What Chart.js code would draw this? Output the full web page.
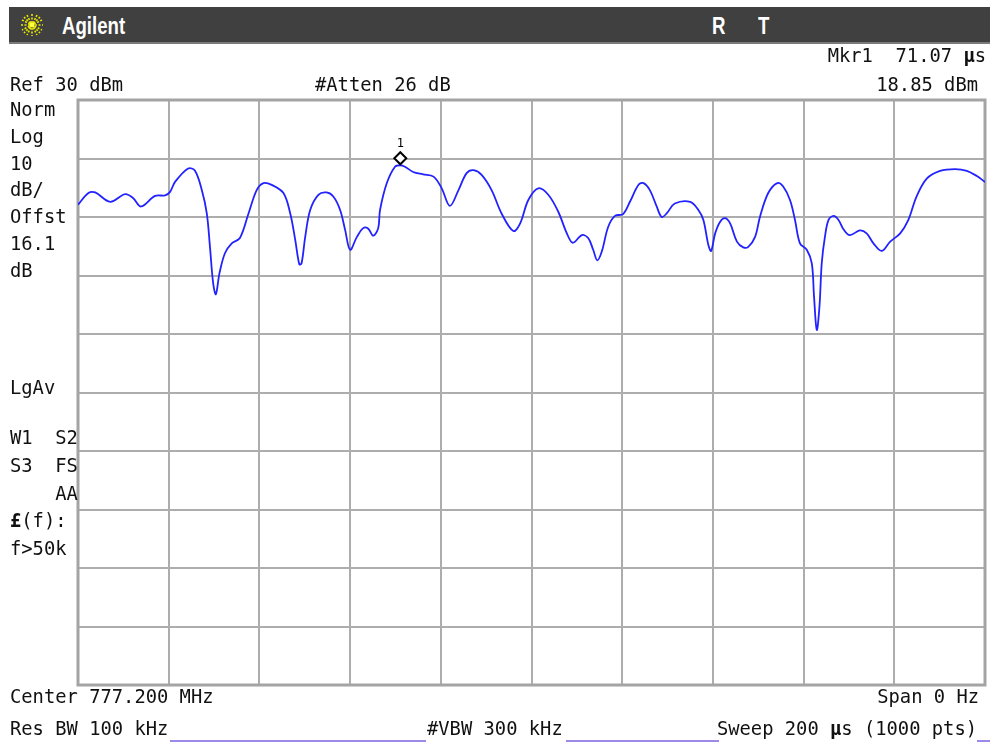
<!DOCTYPE html>
<html>
<head>
<meta charset="utf-8">
<script src="https://cdn.jsdelivr.net/npm/chart.js@4.4.1/dist/chart.umd.min.js"></script>
<style>
  html, body { margin: 0; padding: 0; background: #ffffff; }
  #wrap { position: relative; width: 990px; height: 742px; overflow: hidden; background: #fff; }
  #c { position: absolute; left: 0; top: 0; }
  .t { position: absolute; font-family: "DejaVu Sans Mono", "Liberation Mono", monospace; font-size: 18.8px; line-height: 1; color: #111; white-space: pre; }
  .r { text-align: right; }
  #bar { position: absolute; left: 9px; top: 7px; width: 981px; height: 35px; background: #404040; border-bottom: 2px solid #7a7a7a; }
  .hb { position: absolute; font-family: "Liberation Sans", Arial, sans-serif; font-weight: bold; font-size: 23px; line-height: 1; color: #fff; transform-origin: 0 0; transform: scaleX(0.81); white-space: pre; }
  .ul { position: absolute; height: 2px; background: #9d8ae8; top: 740px; }
</style>
</head>
<body>
<div id="wrap">
  <canvas id="c" width="990" height="742"></canvas>
  <div id="bar"></div>
  <svg style="position:absolute;left:20px;top:13px" width="24" height="24" viewBox="0 0 24 24">
    <g stroke="#e8e800" stroke-width="1.6" stroke-dasharray="2 1.5">
      <line x1="12" y1="1" x2="12" y2="23"/><line x1="1" y1="12" x2="23" y2="12"/>
      <line x1="4" y1="4" x2="20" y2="20"/><line x1="20" y1="4" x2="4" y2="20"/>
      <line x1="7" y1="2" x2="17" y2="22"/><line x1="17" y1="2" x2="7" y2="22"/>
      <line x1="2" y1="7" x2="22" y2="17"/><line x1="22" y1="7" x2="2" y2="17"/>
    </g>
    <circle cx="12" cy="12" r="2.5" fill="#ffff40"/>
  </svg>
  <div class="hb" style="left:62px;top:15px">Agilent</div>
  <div class="hb" style="left:712px;top:15px">R</div>
  <div class="hb" style="left:758px;top:15px">T</div>
</div>
<script>
// ---- Data (time in µs, level in dBm) ----
const timeUs = [0, 2.3, 3.8, 7.1, 10.4, 12.2, 13.9, 17.0, 19.2, 20.3, 21.4, 24.3, 25.8, 27.3, 28.4, 29.1, 29.8, 30.4, 31.2, 32.4, 33.9, 35.7, 37.6, 39.4, 40.9, 42.7, 45.3, 46.8, 47.9, 48.8, 49.3, 50.1, 51.2, 53.0, 54.8, 56.3, 57.8, 58.9, 60.0, 61.5, 62.9, 64.0, 65.1, 66.2, 66.6, 68.1, 69.9, 71.07, 72.1, 73.9, 76.1, 78.4, 80.2, 82.0, 83.9, 85.7, 87.2, 89.0, 91.2, 93.4, 96.0, 97.5, 99.3, 101.5, 103.7, 105.9, 107.8, 109.1, 111.1, 112.5, 113.6, 114.5, 115.5, 116.9, 118.4, 120.2, 121.7, 123.6, 124.7, 126.1, 127.6, 128.7, 129.8, 131.6, 135.0, 136.8, 137.9, 139.0, 139.6, 140.5, 141.6, 142.7, 143.8, 145.3, 146.7, 147.8, 149.3, 150.4, 152.2, 154.2, 155.5, 157.0, 158.1, 159.2, 160.7, 161.8, 162.3, 162.9, 163.5, 164.0, 164.7, 165.5, 166.6, 167.7, 168.8, 170.2, 172.4, 173.9, 175.4, 177.2, 179.1, 181.3, 183.1, 184.9, 187.2, 190.1, 193.4, 196.0, 198.2, 200];
const levelDbm = [12.1, 14.1, 14.2, 12.6, 13.9, 13.2, 11.8, 13.6, 13.7, 14.3, 16.0, 18.3, 17.9, 14.6, 10.6, 4.9, -1.3, -3.2, 0.4, 3.8, 5.5, 6.4, 10.6, 14.6, 15.8, 15.5, 14.1, 10.6, 6.1, 1.9, 2.1, 6.6, 11.2, 13.8, 14.2, 13.5, 11.2, 7.8, 4.4, 6.6, 8.1, 8.0, 6.8, 8.1, 11.2, 15.8, 18.6, 18.85, 18.6, 17.7, 17.3, 16.9, 14.9, 11.9, 14.6, 17.5, 18.0, 17.2, 14.6, 10.6, 7.6, 8.9, 12.9, 14.9, 13.8, 10.9, 7.2, 5.6, 6.9, 6.4, 4.4, 2.6, 4.1, 8.3, 10.2, 10.5, 12.6, 15.5, 15.8, 14.6, 11.8, 10.0, 10.6, 12.3, 12.6, 11.2, 9.5, 5.2, 4.2, 7.2, 9.2, 9.8, 8.9, 5.8, 4.8, 4.9, 6.6, 10.1, 14.1, 15.8, 15.2, 12.9, 9.5, 5.5, 4.4, 2.1, -3.6, -9.3, -5.3, 2.1, 6.6, 9.5, 10.2, 9.5, 7.9, 6.9, 7.7, 7.2, 5.5, 4.2, 5.8, 7.2, 9.5, 13.5, 16.6, 17.9, 18.2, 17.9, 17.0, 16.0];
const markerTime = 71.07;   // µs
const markerLevel = 18.85;  // dBm
const refLevel = 30;        // dBm (top of screen)
const dbPerDiv = 10;
const divisions = 10;
const sweepUs = 200;

// ---- Annotation texts ----
const topTexts = [
  { s: "Mkr1  71.07 <b>\u00b5</b>s", x: 986, y: 63, right: true },
  { s: "Ref 30 dBm", x: 10, y: 92 },
  { s: "#Atten 26 dB", x: 315, y: 92 },
  { s: "18.85 dBm", x: 978, y: 92, right: true }
];
const sideTexts = ["Norm", "Log", "10", "dB/", "Offst", "16.1", "dB"];
const sideTexts2 = ["LgAv", "", "W1  S2", "S3  FS", "    AA", "<b>\u00a3</b>(f):", "f>50k"];
const bottomTexts = [
  { s: "Center 777.200 MHz", x: 10, y: 704 },
  { s: "Span 0 Hz", x: 979, y: 704, right: true },
  { s: "Res BW 100 kHz", x: 10, y: 736 },
  { s: "#VBW 300 kHz", x: 427, y: 736 },
  { s: "Sweep 200 <b>\u00b5</b>s (1000 pts)", x: 977, y: 736, right: true }
];

const wrap = document.getElementById('wrap');
function addText(s, x, baseline, right) {
  const d = document.createElement('div');
  d.className = 't' + (right ? ' r' : '');
  d.innerHTML = s;
  d.style.top = (baseline - 16) + 'px';
  if (right) { d.style.right = (990 - x) + 'px'; } else { d.style.left = x + 'px'; }
  wrap.appendChild(d);
}
topTexts.forEach(o => addText(o.s, o.x, o.y, o.right));
sideTexts.forEach((s, i) => addText(s, 10, 117 + i * 26.8, false));
[395, 0, 445, 473, 501, 528, 556].forEach((b, i) => { if (sideTexts2[i]) addText(sideTexts2[i], 10, b, false); });
bottomTexts.forEach(o => addText(o.s, o.x, o.y, o.right));
[[170, 256], [566, 153], [977, 13]].forEach(([l, w]) => {
  const u = document.createElement('div'); u.className = 'ul';
  u.style.left = l + 'px'; u.style.width = w + 'px'; wrap.appendChild(u);
});

const pts = timeUs.map((t, i) => ({ x: t, y: levelDbm[i] }));

const frame = {
  id: 'frame',
  beforeDatasetsDraw(chart) {
    const a = chart.chartArea, ctx = chart.ctx;
    ctx.save();
    ctx.strokeStyle = '#a4a4a4';
    ctx.lineWidth = 3;
    ctx.strokeRect(a.left, a.top, a.right - a.left, a.bottom - a.top);
    ctx.restore();
  },
  afterDatasetsDraw(chart) {
    const ctx = chart.ctx;
    const x = chart.scales.x.getPixelForValue(markerTime);
    const y = chart.scales.y.getPixelForValue(markerLevel) - 7;
    ctx.save();
    ctx.beginPath();
    ctx.moveTo(x, y - 6); ctx.lineTo(x + 6, y); ctx.lineTo(x, y + 6); ctx.lineTo(x - 6, y); ctx.closePath();
    ctx.fillStyle = '#fff'; ctx.fill();
    ctx.strokeStyle = '#000'; ctx.lineWidth = 2; ctx.stroke();
    ctx.fillStyle = '#000';
    ctx.font = '12px "DejaVu Sans Mono", monospace';
    ctx.textAlign = 'center'; ctx.textBaseline = 'alphabetic';
    ctx.fillText('1', x, y - 11);
    ctx.restore();
  }
};

new Chart(document.getElementById('c'), {
  type: 'line',
  data: {
    datasets: [{
      data: pts,
      borderColor: '#2222ff',
      borderWidth: 1.8,
      pointRadius: 0,
      tension: 0.35,
      fill: false
    }]
  },
  options: {
    responsive: false,
    devicePixelRatio: 1,
    animation: false,
    events: [],
    layout: { padding: { left: 78, right: 5, top: 100, bottom: 57 } },
    plugins: { legend: { display: false }, tooltip: { enabled: false } },
    scales: {
      x: {
        type: 'linear', min: 0, max: sweepUs,
        ticks: { display: false, stepSize: sweepUs / divisions },
        grid: { color: '#adadad', lineWidth: 2, drawTicks: false },
        border: { display: false }
      },
      y: {
        type: 'linear', min: refLevel - dbPerDiv * divisions, max: refLevel,
        ticks: { display: false, stepSize: dbPerDiv },
        grid: { color: '#adadad', lineWidth: 2, drawTicks: false },
        border: { display: false }
      }
    }
  },
  plugins: [frame]
});
</script>
</body>
</html>
